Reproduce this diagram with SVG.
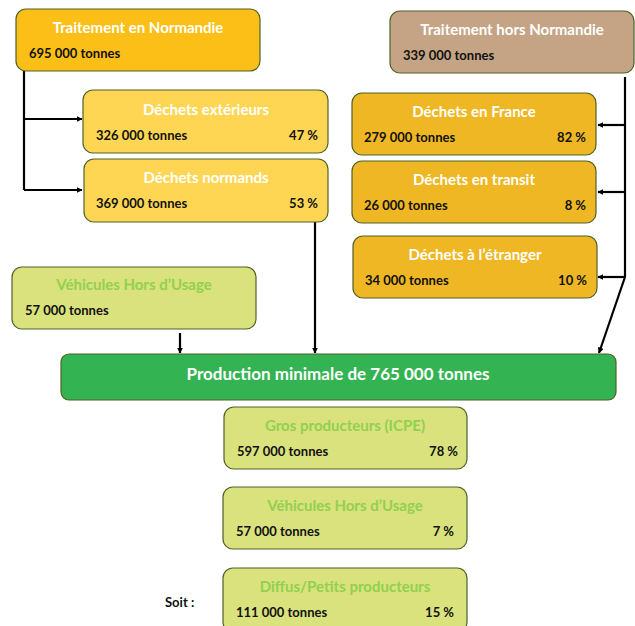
<svg xmlns="http://www.w3.org/2000/svg" width="635" height="626" viewBox="0 0 635 626">
<style>
.box{stroke:#4f6228;stroke-width:1.2}
.t{font-family:Lato,"Open Sans",sans-serif;font-weight:bold;font-size:15px;text-anchor:middle;fill:#fff}
.tg{fill:#92d050}
.n{font-family:Lato,"Open Sans",sans-serif;font-weight:bold;font-size:13px;fill:#111}
.p{text-anchor:end}
.c{stroke:#000;stroke-width:2.2;fill:none}
</style>
<defs>
<marker id="ah" viewBox="0 0 10 10" refX="9" refY="5" markerWidth="6" markerHeight="6" orient="auto-start-reverse" markerUnits="userSpaceOnUse">
<path d="M0,0 L10,5 L0,10 z" fill="#000"/>
</marker>
</defs>
<rect width="635" height="626" fill="#fff"/>
<g id="connectors">
<path class="c" d="M24,71 V190"/>
<path class="c" d="M24,119 H82" marker-end="url(#ah)"/>
<path class="c" d="M24,190 H82" marker-end="url(#ah)"/>
<path class="c" d="M625,77 V277"/>
<path class="c" d="M625,125 H598" marker-end="url(#ah)"/>
<path class="c" d="M625,192 H598" marker-end="url(#ah)"/>
<path class="c" d="M625,277 H598" marker-end="url(#ah)"/>
<path class="c" d="M625,277 L599,353" marker-end="url(#ah)"/>
<path class="c" d="M180,333 V353" marker-end="url(#ah)"/>
<path class="c" d="M315,222 V353" marker-end="url(#ah)"/>
</g>
<g id="traitement-normandie">
<rect class="box" x="16" y="9" width="244" height="62" rx="10" fill="#fbbf17"/>
<text class="t" x="138" y="33">Traitement en Normandie</text>
<text class="n" x="29" y="58">695 000 tonnes</text>
</g>
<g id="dechets-exterieurs">
<rect class="box" x="83" y="90" width="245" height="63" rx="10" fill="#fed654"/>
<text class="t" x="206" y="115">Déchets extérieurs</text>
<text class="n" x="96" y="140">326 000 tonnes</text>
<text class="n p" x="318" y="140">47 %</text>
</g>
<g id="dechets-normands">
<rect class="box" x="84" y="159" width="244" height="63" rx="10" fill="#fed654"/>
<text class="t" x="206" y="183">Déchets normands</text>
<text class="n" x="96" y="208">369 000 tonnes</text>
<text class="n p" x="318" y="208">53 %</text>
</g>
<g id="traitement-hors-normandie">
<rect class="box" x="390" y="11" width="244" height="62" rx="10" fill="#c4a484"/>
<text class="t" x="512" y="35">Traitement hors Normandie</text>
<text class="n" x="403" y="60">339 000 tonnes</text>
</g>
<g id="dechets-france">
<rect class="box" x="352" y="93" width="244" height="62" rx="10" fill="#efb723"/>
<text class="t" x="474" y="117">Déchets en France</text>
<text class="n" x="364" y="142">279 000 tonnes</text>
<text class="n p" x="586" y="142">82 %</text>
</g>
<g id="dechets-transit">
<rect class="box" x="352" y="161" width="244" height="62" rx="10" fill="#efb723"/>
<text class="t" x="474" y="185">Déchets en transit</text>
<text class="n" x="364" y="210">26 000 tonnes</text>
<text class="n p" x="586" y="210">8 %</text>
</g>
<g id="dechets-etranger">
<rect class="box" x="353" y="236" width="244" height="62" rx="10" fill="#efb723"/>
<text class="t" x="475" y="260">Déchets à l’étranger</text>
<text class="n" x="365" y="285">34 000 tonnes</text>
<text class="n p" x="587" y="285">10 %</text>
</g>
<g id="vhu-source">
<rect class="box" x="12" y="267" width="244" height="62" rx="10" fill="#d9e27d"/>
<text class="t tg" x="134" y="290">Véhicules Hors d’Usage</text>
<text class="n" x="25" y="315">57 000 tonnes</text>
</g>
<g id="production">
<rect class="box" x="61" y="354" width="555" height="46" rx="8" fill="#34b353"/>
<text class="t" x="338" y="380" style="font-size:17px">Production minimale de 765 000 tonnes</text>
</g>
<g id="gros-producteurs">
<rect class="box" x="224" y="407" width="243" height="62" rx="10" fill="#d9e27d"/>
<text class="t tg" x="345" y="431">Gros producteurs (ICPE)</text>
<text class="n" x="237" y="456">597 000 tonnes</text>
<text class="n p" x="458" y="456">78 %</text>
</g>
<g id="vhu">
<rect class="box" x="223" y="487" width="244" height="62" rx="10" fill="#d9e27d"/>
<text class="t tg" x="345" y="511">Véhicules Hors d’Usage</text>
<text class="n" x="236" y="536">57 000 tonnes</text>
<text class="n p" x="454" y="536">7 %</text>
</g>
<g id="diffus">
<rect class="box" x="223" y="568" width="244" height="64" rx="10" fill="#d9e27d"/>
<text class="t tg" x="345" y="592">Diffus/Petits producteurs</text>
<text class="n" x="236" y="617">111 000 tonnes</text>
<text class="n p" x="454" y="617">15 %</text>
</g>
<text class="n" x="165" y="607">Soit :</text>
</svg>
